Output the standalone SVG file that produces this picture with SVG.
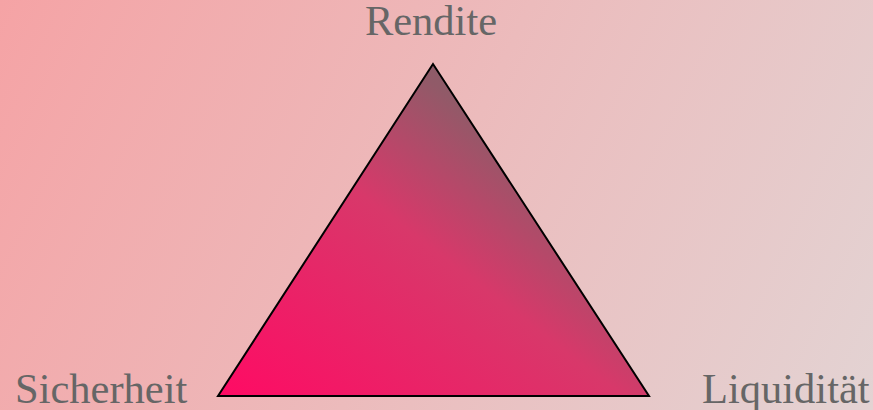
<svg xmlns="http://www.w3.org/2000/svg" width="873" height="410" viewBox="0 0 873 410">
<defs>
<linearGradient id="bg" x1="0" y1="0" x2="873" y2="410" gradientUnits="userSpaceOnUse">
<stop offset="0" stop-color="#f5a3a5"/>
<stop offset="1" stop-color="#e3d3d3"/>
</linearGradient>
<linearGradient id="tri" x1="0" y1="1" x2="1" y2="0">
<stop offset="0" stop-color="#ff0a64"/>
<stop offset="0.47" stop-color="#d8386a"/>
<stop offset="0.72" stop-color="#915a68"/>
<stop offset="1" stop-color="#6a6a6a"/>
</linearGradient>
<style>
.lbl{font-family:"Liberation Serif","Times New Roman",serif;font-size:42.5px;fill:#666666}
</style>
</defs>
<rect width="873" height="410" fill="url(#bg)"/>
<g id="triangle">
<polygon points="433,64 218,396 649,396" fill="url(#tri)" stroke="#000" stroke-width="2" stroke-linejoin="miter"/>
</g>
<g id="rendite"><text class="lbl" x="431" y="35" text-anchor="middle">Rendite</text></g>
<g id="sicherheit"><text class="lbl" x="15" y="403">Sicherheit</text></g>
<g id="liquiditaet"><text class="lbl" x="702" y="403">Liquidität</text></g>
<g id="connectors"></g>
</svg>
